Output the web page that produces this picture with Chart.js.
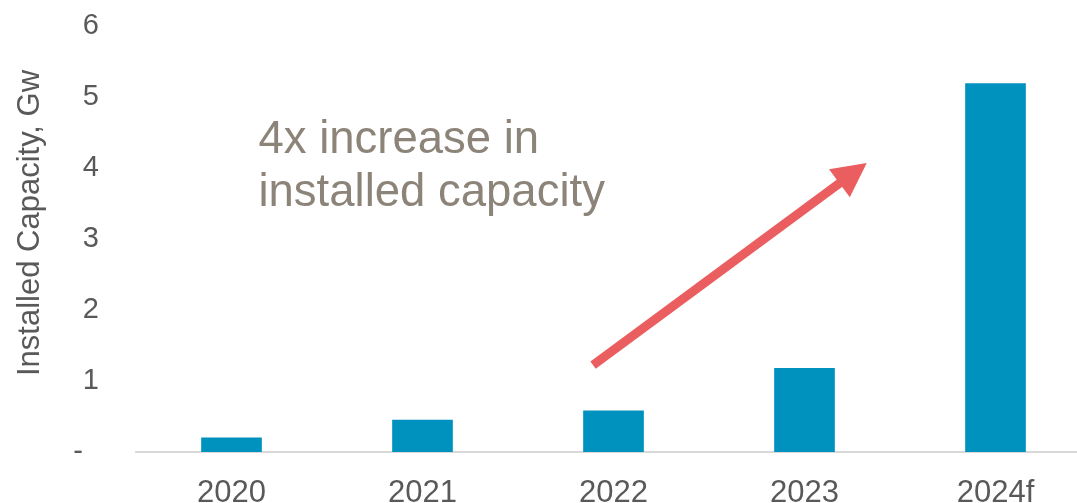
<!DOCTYPE html>
<html>
<head>
<meta charset="utf-8">
<script src="https://cdn.jsdelivr.net/npm/chart.js@4/dist/chart.umd.min.js"></script>
<style>
  html, body { margin: 0; padding: 0; background: #fff; overflow: hidden; }
  #wrap { width: 1092px; height: 530px; }
</style>
</head>
<body>
<div id="wrap"><canvas id="capChart" width="1092" height="530"></canvas></div>
<script>
/* =========================
   DATA
========================= */
const years = ["2020", "2021", "2022", "2023", "2024f"];
const capacityGw = [0.2, 0.45, 0.58, 1.18, 5.19];
const yTicks = [0, 1, 2, 3, 4, 5, 6];

// arrow and note, placed in axis units (category index, GW)
const arrowFrom = [1.893, 1.225];
const arrowTo = [3.326, 4.07];
const noteAt = [0.141, 4.21];
const noteLines = ["4x increase in", "installed capacity"];

const FONT = "'Liberation Sans', Arial, sans-serif";

/* =========================
   OVERLAY: title, note, arrow
========================= */
const overlay = {
  id: "overlay",
  afterDraw(chart) {
    const { ctx, scales: { x, y } } = chart;
    ctx.save();

    // y axis title
    ctx.save();
    ctx.translate(39, (chart.chartArea.top + chart.chartArea.bottom) / 2 - 16);
    ctx.rotate(-Math.PI / 2);
    ctx.font = "31px " + FONT;
    ctx.fillStyle = "#595959";
    ctx.textAlign = "center";
    ctx.textBaseline = "alphabetic";
    ctx.fillText("Installed Capacity, Gw", 0, 0);
    ctx.restore();

    // note text
    ctx.font = "45.5px " + FONT;
    ctx.fillStyle = "#8C8479";
    ctx.textAlign = "left";
    ctx.textBaseline = "alphabetic";
    const nx = x.getPixelForValue(noteAt[0]);
    const ny = y.getPixelForValue(noteAt[1]);
    noteLines.forEach((t, i) => ctx.fillText(t, nx, ny + i * 53));

    // arrow
    const x0 = x.getPixelForValue(arrowFrom[0]), y0 = y.getPixelForValue(arrowFrom[1]);
    const x1 = x.getPixelForValue(arrowTo[0]), y1 = y.getPixelForValue(arrowTo[1]);
    const ang = Math.atan2(y1 - y0, x1 - x0);
    const headLen = 34, headHalf = 17.5, shaft = 9;
    const bx = x1 - headLen * Math.cos(ang), by = y1 - headLen * Math.sin(ang);
    ctx.strokeStyle = "#EB5E60";
    ctx.fillStyle = "#EB5E60";
    ctx.lineWidth = shaft;
    ctx.lineCap = "butt";
    ctx.beginPath();
    ctx.moveTo(x0, y0);
    ctx.lineTo(bx + 2 * Math.cos(ang), by + 2 * Math.sin(ang));
    ctx.stroke();
    ctx.beginPath();
    ctx.moveTo(x1, y1);
    ctx.lineTo(bx - headHalf * Math.sin(ang), by + headHalf * Math.cos(ang));
    ctx.lineTo(bx + headHalf * Math.sin(ang), by - headHalf * Math.cos(ang));
    ctx.closePath();
    ctx.fill();

    ctx.restore();
  }
};

/* =========================
   CHART
========================= */
new Chart(document.getElementById("capChart"), {
  type: "bar",
  data: {
    labels: years,
    datasets: [{
      label: "Installed Capacity, Gw",
      data: capacityGw,
      backgroundColor: "#0092BE",
      barThickness: 60
    }]
  },
  options: {
    responsive: false,
    animation: false,
    layout: { padding: { top: 26, right: 1, left: 0, bottom: 0 } },
    plugins: {
      legend: { display: false },
      tooltip: { enabled: false }
    },
    scales: {
      x: {
        grid: { display: false, drawTicks: false },
        border: { color: "#D9D9D9", width: 2 },
        ticks: {
          color: "#595959",
          font: { family: FONT, size: 31 },
          padding: 23,
          maxRotation: 0
        },
        afterFit(scale) {
          scale.height = 78;
          scale.paddingLeft = 0;
          scale.paddingRight = 0;
        }
      },
      y: {
        min: 0,
        max: 6,
        afterBuildTicks(scale) { scale.ticks = yTicks.map(v => ({ value: v })); },
        grid: { display: false, drawTicks: false },
        border: { display: false },
        ticks: {
          color: "#595959",
          font: { family: FONT, size: 29 },
          padding: 37,
          callback: v => v === 0 ? "-  " : String(v)
        },
        afterFit(scale) {
          scale.width = 136;
          scale.paddingTop = 0;
          scale.paddingBottom = 0;
        }
      }
    }
  },
  plugins: [overlay]
});
</script>
</body>
</html>
